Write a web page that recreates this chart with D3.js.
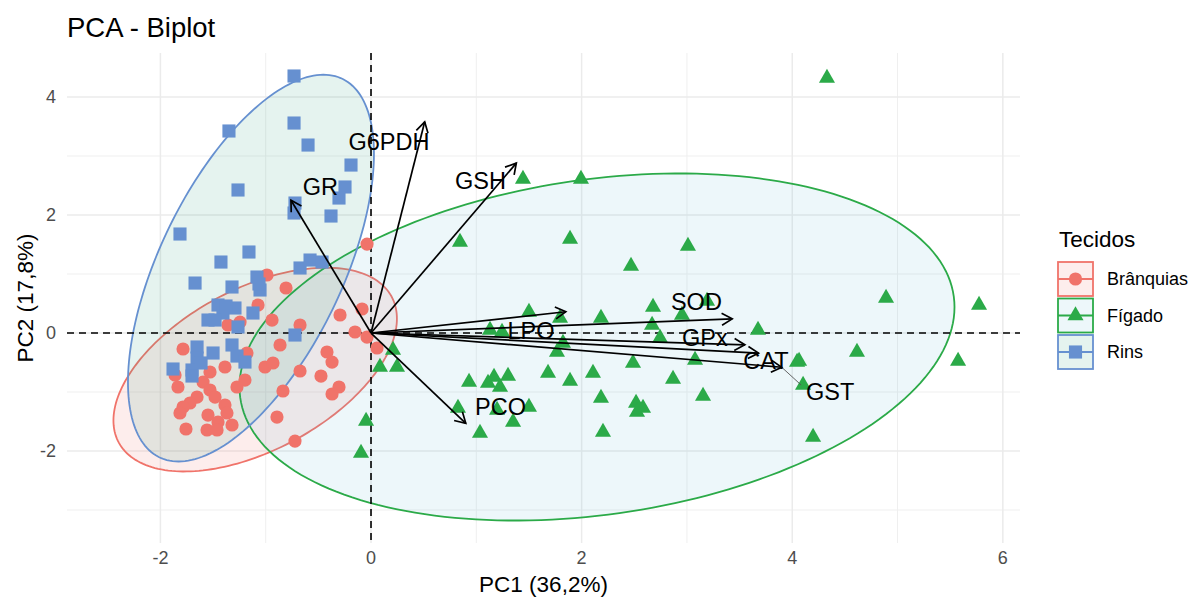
<!DOCTYPE html>
<html><head><meta charset="utf-8">
<script src="https://cdn.jsdelivr.net/npm/d3@7"></script>
<style>body{margin:0;background:#fff;} text{font-family:"Liberation Sans",Arial,sans-serif;}</style>
</head><body><svg id="c" width="1200" height="597"></svg>
<script>
// ---------- DATA ----------
const groups = ["Brânquias", "Fígado", "Rins"];
const colors = ["#F0736A", "#2BAA48", "#6690D0"];
const fills  = ["rgba(240,115,106,0.13)", "rgba(88,180,205,0.11)", "rgba(40,160,120,0.12)"];

const branquiasX = [-0.988,-0.807,-0.038,-1.073,-0.940,-0.674,-0.294,-0.085,-0.152,-0.038,0.057,-0.418,-0.370,-0.864,-1.007,-0.931,-0.674,-0.475,-0.304,-0.370,-0.836,-0.893,-0.722,-1.197,-1.273,-1.178,-1.387,-1.529,-1.595,-1.529,-1.481,-1.652,-1.719,-1.785,-1.814,-1.387,-1.368,-1.548,-1.453,-1.320,-1.557,-1.462,-1.757,-1.833,-1.861,-1.785,-1.244,-1.358];
const branquiasY = [0.983,0.763,1.508,0.475,0.220,0.136,0.305,0.407,0.017,-0.068,-0.254,-0.322,-0.492,-0.203,-0.576,-0.508,-0.644,-0.729,-0.915,-1.034,-0.983,-1.424,-1.831,-0.797,-0.915,-0.339,-0.576,-0.661,-0.831,-0.966,-1.085,-1.085,-1.186,-1.254,-1.356,-1.220,-1.356,-1.390,-1.508,-1.559,-1.644,-1.644,-1.627,-0.915,-0.712,-0.271,0.186,0.136];

const figadoX = [1.443,1.994,0.845,1.890,3.010,2.469,2.678,2.953,3.191,1.500,1.795,2.184,2.669,2.745,3.675,1.130,1.244,1.823,1.766,0.209,0.085,0.247,2.488,3.077,4.046,1.681,2.108,0.931,1.111,1.168,1.301,1.225,1.890,2.868,2.184,3.153,2.517,2.583,2.526,1.500,0.826,1.197,1.349,1.035,2.203,4.330,4.891,5.774,4.615,5.575,4.065,4.103,4.198,-0.047,-0.095];
const figadoY = [2.610,2.610,1.542,1.593,1.475,1.136,0.441,0.305,0.542,0.356,0.254,0.254,0.136,-0.085,0.051,0.051,0.017,-0.169,-0.322,-0.288,-0.576,-0.576,-0.508,-0.458,-0.492,-0.678,-0.678,-0.831,-0.847,-0.746,-0.729,-0.915,-0.814,-0.780,-1.102,-1.068,-1.186,-1.271,-1.339,-1.254,-1.271,-1.305,-1.508,-1.695,-1.678,4.322,0.593,0.475,-0.322,-0.475,-0.475,-0.881,-1.763,-1.492,-2.034];

const rinsX = [-0.731,-1.349,-0.731,-0.598,-0.190,-0.247,-0.304,-1.263,-0.722,-0.731,-0.380,-1.814,-1.159,-1.425,-1.671,-1.320,-0.674,-0.579,-0.465,-1.083,-1.054,-1.064,-1.453,-1.406,-1.292,-1.121,-1.548,-1.263,-0.722,-1.652,-1.500,-1.320,-1.273,-1.197,-1.652,-1.700,-1.880,-1.614,-1.481,-1.377,-1.700];
const rinsY = [4.356,3.424,3.559,3.186,2.847,2.475,2.288,2.424,2.203,2.034,1.983,1.678,1.373,1.203,0.847,0.780,1.102,1.237,1.203,0.949,0.729,0.831,0.475,0.339,0.424,0.339,0.220,0.102,-0.034,-0.237,-0.339,-0.203,-0.390,-0.492,-0.424,-0.627,-0.610,-0.508,0.220,0.458,-0.729];

// Concentration ellipses (centre, spread, correlation) per group
const ellipseCX = [-1.10, 2.146, -1.14];
const ellipseCY = [-0.62, -0.237, 1.10];
const ellipseSX = [1.346, 3.395, 1.168];
const ellipseSY = [1.727, 2.941, 3.278];
const ellipseR  = [0.50, 0.23, 0.59];

// Variable loadings (arrows) and their label positions
const varNames = ["G6PDH","GR","GSH","LPO","SOD","GPx","CAT","GST","PCO"];
const varX = [0.51,-0.76,1.38,1.85,3.43,3.55,3.68,3.90,0.90];
const varY = [3.58,2.25,2.88,0.36,0.24,-0.20,-0.34,-0.58,-1.53];
const labelX = [0.17,-0.48,1.04,1.52,3.09,3.17,3.75,4.36,1.23];
const labelY = [3.24,2.49,2.59,0.05,0.53,-0.08,-0.46,-1.00,-1.24];

const xMajor = [-2,0,2,4,6], xMinor = [-1,1,3,5];
const yMajor = [-2,0,2,4], yMinor = [-3,-1,1,3];

// ---------- CHART ----------
const svg = d3.select("#c");
const L=67, R=1020, T=53, B=543;
const x = d3.scaleLinear().domain([-2.887, 6.163]).range([L, R]);
const y = d3.scaleLinear().domain([-3.559, 4.746]).range([B, T]);

// grid
const g = svg.append("g");
g.selectAll(".vmin").data(xMinor).enter().append("line")
  .attr("x1",d=>x(d)).attr("x2",d=>x(d)).attr("y1",T).attr("y2",B)
  .attr("stroke","#EFEFEF").attr("stroke-width",1);
g.selectAll(".hmin").data(yMinor).enter().append("line")
  .attr("y1",d=>y(d)).attr("y2",d=>y(d)).attr("x1",L).attr("x2",R)
  .attr("stroke","#EFEFEF").attr("stroke-width",1);
g.selectAll(".vmaj").data(xMajor).enter().append("line")
  .attr("x1",d=>x(d)).attr("x2",d=>x(d)).attr("y1",T).attr("y2",B)
  .attr("stroke","#EBEBEB").attr("stroke-width",1.5);
g.selectAll(".hmaj").data(yMajor).enter().append("line")
  .attr("y1",d=>y(d)).attr("y2",d=>y(d)).attr("x1",L).attr("x2",R)
  .attr("stroke","#EBEBEB").attr("stroke-width",1.5);

// axis tick labels
svg.selectAll(".xt").data(xMajor).enter().append("text")
  .attr("x",d=>x(d)).attr("y",564).attr("text-anchor","middle")
  .attr("font-size",18).attr("fill","#4D4D4D").text(d=>d);
svg.selectAll(".yt").data(yMajor).enter().append("text")
  .attr("x",56).attr("y",d=>y(d)).attr("dy","0.35em").attr("text-anchor","end")
  .attr("font-size",18).attr("fill","#4D4D4D").text(d=>d);

// ellipses
const line = d3.line();
groups.forEach((grp,i)=>{
  const pts = d3.range(0,201).map(k=>{
    const t = k/200*2*Math.PI;
    const dx = ellipseSX[i]*Math.cos(t);
    const dy = ellipseSY[i]*(ellipseR[i]*Math.cos(t) + Math.sqrt(1-ellipseR[i]*ellipseR[i])*Math.sin(t));
    return [x(ellipseCX[i]+dx), y(ellipseCY[i]+dy)];
  });
  svg.append("path").attr("d", line(pts)+"Z")
    .attr("fill", fills[i]).attr("stroke", colors[i]).attr("stroke-width",1.8);
});

// reference dashed lines
svg.append("line").attr("x1",L).attr("x2",R).attr("y1",y(0)).attr("y2",y(0))
  .attr("stroke","#000").attr("stroke-width",1.6).attr("stroke-dasharray","7,5");
svg.append("line").attr("x1",x(0)).attr("x2",x(0)).attr("y1",T).attr("y2",B)
  .attr("stroke","#000").attr("stroke-width",1.6).attr("stroke-dasharray","7,5");

// points
const sym = [d3.symbol().type(d3.symbolCircle).size(Math.PI*6.6*6.6),
             d3.symbol().type(d3.symbolTriangle).size(112),
             d3.symbol().type(d3.symbolSquare).size(172)];
const groupX = [branquiasX, figadoX, rinsX];
const groupY = [branquiasY, figadoY, rinsY];
[0,1,2].forEach(i=>{
  const data = groupX[i].map((v,k)=>[v, groupY[i][k]]);
  svg.append("g").selectAll("path").data(data).enter().append("path")
    .attr("d", sym[i]())
    .attr("transform", d=>`translate(${x(d[0])},${y(d[1])})`)
    .attr("fill", colors[i]);
});

// arrows
const ag = svg.append("g").attr("stroke","#000").attr("stroke-width",1.7).attr("fill","none");
varNames.forEach((n,i)=>{
  const x0=x(0), y0=y(0), x1=x(varX[i]), y1=y(varY[i]);
  ag.append("line").attr("x1",x0).attr("y1",y0).attr("x2",x1).attr("y2",y1);
  const a = Math.atan2(y1-y0, x1-x0), hl = 12, ha = Math.PI/6;
  const p1 = [x1-hl*Math.cos(a-ha), y1-hl*Math.sin(a-ha)];
  const p2 = [x1-hl*Math.cos(a+ha), y1-hl*Math.sin(a+ha)];
  ag.append("path").attr("d", `M${p1[0]},${p1[1]}L${x1},${y1}L${p2[0]},${p2[1]}`);
});
// repel segment for GST
const gi = varNames.indexOf("GST");
svg.append("line").attr("x1",x(varX[gi])).attr("y1",y(varY[gi]))
  .attr("x2",x(labelX[gi])-29).attr("y2",y(labelY[gi])-7)
  .attr("stroke","#555").attr("stroke-width",0.9);

// variable labels
svg.selectAll(".vl").data(varNames).enter().append("text")
  .attr("x",(d,i)=>x(labelX[i])).attr("y",(d,i)=>y(labelY[i])).attr("dy","0.36em")
  .attr("text-anchor","middle").attr("font-size",23.5).attr("fill","#000").text(d=>d);

// titles
svg.append("text").attr("x",67).attr("y",37).attr("font-size",27.5).attr("fill","#000").text("PCA - Biplot");
svg.append("text").attr("x",(L+R)/2).attr("y",592).attr("text-anchor","middle")
  .attr("font-size",22.5).attr("fill","#000").text("PC1 (36,2%)");
svg.append("text").attr("transform",`translate(33,${(T+B)/2}) rotate(-90)`)
  .attr("text-anchor","middle").attr("font-size",22.5).attr("fill","#000").text("PC2 (17,8%)");

// legend
const lg = svg.append("g");
lg.append("text").attr("x",1059).attr("y",247).attr("font-size",22.5).attr("fill","#000").text("Tecidos");
groups.forEach((grp,i)=>{
  const ky = 262 + i*36.5, kx = 1058, kw = 35, kh = 34;
  lg.append("rect").attr("x",kx).attr("y",ky).attr("width",kw).attr("height",kh)
    .attr("fill",fills[i]).attr("stroke",colors[i]).attr("stroke-width",1.8);
  lg.append("line").attr("x1",kx).attr("x2",kx+kw).attr("y1",ky+kh/2).attr("y2",ky+kh/2)
    .attr("stroke",colors[i]).attr("stroke-width",1.8);
  lg.append("path").attr("d", sym[i]()).attr("transform",`translate(${kx+kw/2},${ky+kh/2})`)
    .attr("fill",colors[i]);
  lg.append("text").attr("x",1107).attr("y",ky+kh/2).attr("dy","0.35em")
    .attr("font-size",18).attr("fill","#000").text(grp);
});
</script></body></html>
